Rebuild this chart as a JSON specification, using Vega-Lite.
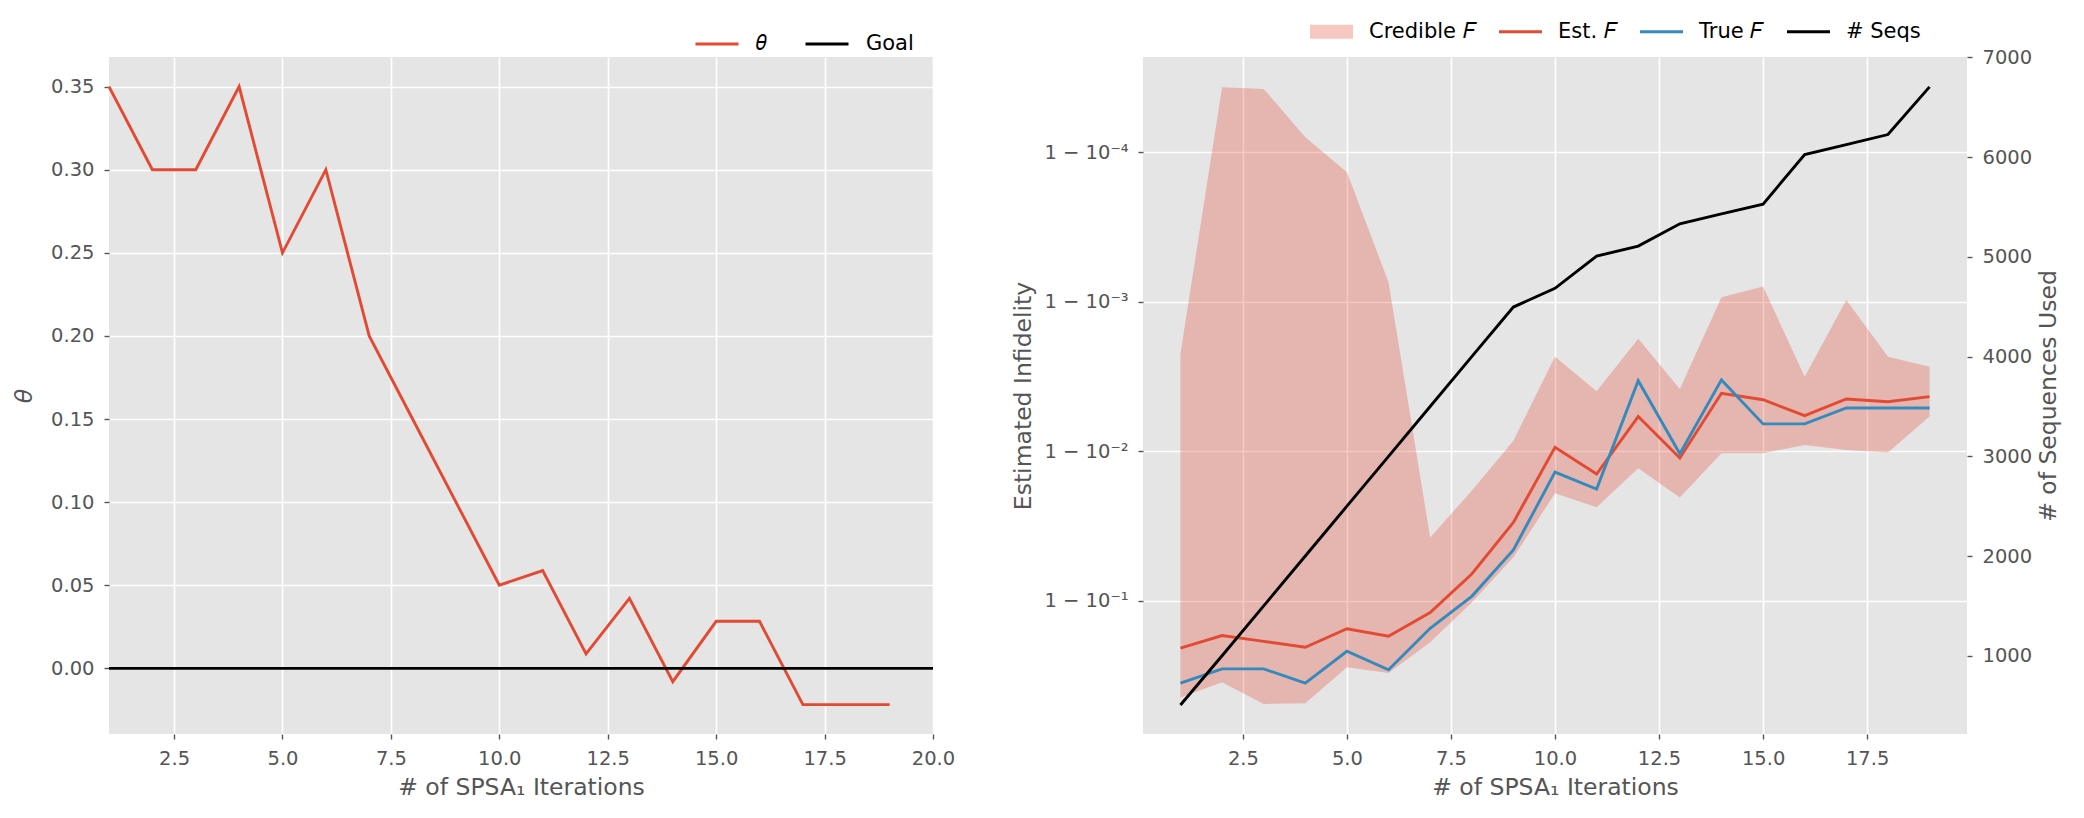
{
  "$schema": "https://vega.github.io/schema/vega-lite/v6.json",
  "padding": {"left": 12, "top": 21, "right": 10, "bottom": 10},
  "background": "white",
  "config": {
    "font": "DejaVu Sans",
    "view": {"fill": "#E5E5E5", "stroke": null},
    "axis": {
      "domain": false,
      "grid": true,
      "gridColor": "#FFFFFF",
      "gridWidth": 1.6,
      "gridOpacity": 1,
      "ticks": true,
      "tickColor": "#555555",
      "tickSize": 5,
      "tickWidth": 1.4,
      "labelColor": "#555555",
      "labelFont": "DejaVu Sans",
      "labelFontSize": 19.5,
      "labelPadding": 10,
      "labelFlush": false,
      "labelOverlap": false,
      "titleColor": "#555555",
      "titleFont": "DejaVu Sans",
      "titleFontSize": 23.5,
      "titleFontWeight": "normal"
    },
    "legend": {
      "labelFont": "DejaVu Sans",
      "labelFontSize": 21,
      "labelColor": "#000000",
      "symbolType": "stroke",
      "symbolSize": 1849,
      "symbolStrokeWidth": 3,
      "symbolOpacity": 1
    }
  },
  "datasets": {
    "theta": [
      {"iter": 1, "theta": 0.35, "series": "θ"},
      {"iter": 2, "theta": 0.30, "series": "θ"},
      {"iter": 3, "theta": 0.30, "series": "θ"},
      {"iter": 4, "theta": 0.35, "series": "θ"},
      {"iter": 5, "theta": 0.25, "series": "θ"},
      {"iter": 6, "theta": 0.30, "series": "θ"},
      {"iter": 7, "theta": 0.20, "series": "θ"},
      {"iter": 8, "theta": 0.15, "series": "θ"},
      {"iter": 9, "theta": 0.10, "series": "θ"},
      {"iter": 10, "theta": 0.05, "series": "θ"},
      {"iter": 11, "theta": 0.0588, "series": "θ"},
      {"iter": 12, "theta": 0.0087, "series": "θ"},
      {"iter": 13, "theta": 0.0421, "series": "θ"},
      {"iter": 14, "theta": -0.0080, "series": "θ"},
      {"iter": 15, "theta": 0.0283, "series": "θ"},
      {"iter": 16, "theta": 0.0283, "series": "θ"},
      {"iter": 17, "theta": -0.0218, "series": "θ"},
      {"iter": 18, "theta": -0.0218, "series": "θ"},
      {"iter": 19, "theta": -0.0218, "series": "θ"},
      {"iter": 1, "theta": 0, "series": "Goal"},
      {"iter": 20, "theta": 0, "series": "Goal"}
    ],
    "runs": [
      {"iter": 1, "est": 0.208, "truth": 0.356, "credLow": 0.00223, "credHigh": 0.444, "seqs": 506},
      {"iter": 2, "est": 0.171, "truth": 0.286, "credLow": 0.0000366, "credHigh": 0.352, "seqs": 1000},
      {"iter": 3, "est": 0.187, "truth": 0.286, "credLow": 0.0000376, "credHigh": 0.491, "seqs": 1500},
      {"iter": 4, "est": 0.205, "truth": 0.356, "credLow": 0.0000793, "credHigh": 0.486, "seqs": 2000},
      {"iter": 5, "est": 0.154, "truth": 0.218, "credLow": 0.000136, "credHigh": 0.279, "seqs": 2500},
      {"iter": 6, "est": 0.173, "truth": 0.290, "credLow": 0.00074, "credHigh": 0.305, "seqs": 3000},
      {"iter": 7, "est": 0.120, "truth": 0.153, "credLow": 0.0377, "credHigh": 0.190, "seqs": 3500},
      {"iter": 8, "est": 0.0663, "truth": 0.0935, "credLow": 0.0184, "credHigh": 0.103, "seqs": 4000},
      {"iter": 9, "est": 0.0299, "truth": 0.0458, "credLow": 0.00849, "credHigh": 0.0513, "seqs": 4497},
      {"iter": 10, "est": 0.00942, "truth": 0.0138, "credLow": 0.00233, "credHigh": 0.0191, "seqs": 4685},
      {"iter": 11, "est": 0.0142, "truth": 0.0179, "credLow": 0.00397, "credHigh": 0.0237, "seqs": 5008},
      {"iter": 12, "est": 0.00586, "truth": 0.00337, "credLow": 0.00177, "credHigh": 0.0130, "seqs": 5108},
      {"iter": 13, "est": 0.0111, "truth": 0.0104, "credLow": 0.00383, "credHigh": 0.0204, "seqs": 5332},
      {"iter": 14, "est": 0.00409, "truth": 0.00333, "credLow": 0.000933, "credHigh": 0.0103, "seqs": 5432},
      {"iter": 15, "est": 0.00452, "truth": 0.00656, "credLow": 0.000791, "credHigh": 0.0103, "seqs": 5529},
      {"iter": 16, "est": 0.00578, "truth": 0.00656, "credLow": 0.00317, "credHigh": 0.00907, "seqs": 6027},
      {"iter": 17, "est": 0.00447, "truth": 0.00513, "credLow": 0.000971, "credHigh": 0.00980, "seqs": 6127},
      {"iter": 18, "est": 0.00466, "truth": 0.00513, "credLow": 0.00233, "credHigh": 0.0102, "seqs": 6227},
      {"iter": 19, "est": 0.00431, "truth": 0.00513, "credLow": 0.00272, "credHigh": 0.00586, "seqs": 6705}
    ]
  },
  "hconcat": [
    {
      "width": 824,
      "height": 677,
      "data": {"name": "theta"},
      "mark": {"type": "line", "strokeWidth": 2.9},
      "encoding": {
        "x": {
          "field": "iter", "type": "quantitative",
          "scale": {"domain": [1, 20], "nice": false, "zero": false},
          "axis": {"values": [2.5, 5, 7.5, 10, 12.5, 15, 17.5, 20], "format": ".1f", "title": "# of SPSA₁ Iterations", "titlePadding": 8}
        },
        "y": {
          "field": "theta", "type": "quantitative",
          "scale": {"domain": [-0.0395, 0.3678], "nice": false, "zero": false},
          "axis": {"values": [0, 0.05, 0.1, 0.15, 0.2, 0.25, 0.3, 0.35], "format": ".2f", "title": "θ", "titleFontStyle": "italic", "titlePadding": 14}
        },
        "color": {
          "field": "series", "type": "nominal",
          "scale": {"domain": ["θ", "Goal"], "range": ["#E24A33", "#000000"]},
          "legend": {
            "orient": "none", "legendX": 585, "legendY": -36,
            "direction": "horizontal", "title": null,
            "labelOffset": 16,
            "columnPadding": 32,
            "labelExpr": "datum.label === 'θ' ? '𝜃' : datum.label"
          }
        },
        "order": {"field": "series", "sort": "descending"}
      }
    },
    {
      "width": 824,
      "height": 677,
      "data": {"name": "runs"},
      "encoding": {
        "x": {
          "field": "iter", "type": "quantitative",
          "scale": {"domain": [0.1, 19.9], "nice": false, "zero": false},
          "axis": {"values": [2.5, 5, 7.5, 10, 12.5, 15, 17.5], "format": ".1f", "title": "# of SPSA₁ Iterations", "titlePadding": 8}
        }
      },
      "layer": [
        {
          "mark": {"type": "area", "opacity": 0.3},
          "encoding": {
            "y": {
              "field": "credLow", "type": "quantitative",
              "scale": {"type": "log", "domain": [0.000023, 0.78], "reverse": true, "nice": false},
              "axis": {
                "orient": "left",
                "values": [0.0001, 0.001, 0.01, 0.1],
                "labelExpr": "'1 − 10' + (datum.value < 0.0005 ? '⁻⁴' : datum.value < 0.005 ? '⁻³' : datum.value < 0.05 ? '⁻²' : '⁻¹')",
                "title": "Estimated Infidelity", "titlePadding": 8
              }
            },
            "y2": {"field": "credHigh"},
            "color": {
              "datum": "Credible F", "type": "nominal",
              "scale": {"domain": ["Credible F", "Est. F", "True F", "# Seqs"], "range": ["#E24A33", "#E24A33", "#348ABD", "#000000"]},
              "legend": {
                "orient": "none", "legendX": 178, "legendY": -36,
                "direction": "horizontal", "title": null,
                "labelOffset": 27,
                "columnPadding": 17,
                "labelExpr": "replace(datum.label, ' F', ' 𝐹')",
                "encode": {
                  "symbols": {
                    "update": {
                      "shape": {"signal": "datum.value === 'Credible F' ? 'M-1,-0.33H1V0.33H-1Z' : 'stroke'"},
                      "size": {"value": 1849},
                      "fill": {"signal": "datum.value === 'Credible F' ? '#E24A33' : 'transparent'"},
                      "fillOpacity": {"signal": "datum.value === 'Credible F' ? 0.3 : 1"},
                      "stroke": {"signal": "datum.value === 'Est. F' ? '#E24A33' : datum.value === 'True F' ? '#348ABD' : datum.value === '# Seqs' ? '#000000' : 'transparent'"},
                      "strokeWidth": {"signal": "datum.value === 'Credible F' ? 0 : 3"},
                      "opacity": {"value": 1}
                    }
                  }
                }
              }
            }
          }
        },
        {
          "mark": {"type": "line", "strokeWidth": 2.9},
          "encoding": {
            "y": {"field": "est", "type": "quantitative", "scale": {"type": "log", "domain": [0.000023, 0.78], "reverse": true, "nice": false}, "axis": null},
            "color": {"datum": "Est. F", "type": "nominal"}
          }
        },
        {
          "mark": {"type": "line", "strokeWidth": 2.9},
          "encoding": {
            "y": {"field": "truth", "type": "quantitative", "scale": {"type": "log", "domain": [0.000023, 0.78], "reverse": true, "nice": false}, "axis": null},
            "color": {"datum": "True F", "type": "nominal"}
          }
        },
        {
          "mark": {"type": "line", "strokeWidth": 2.9},
          "encoding": {
            "y": {
              "field": "seqs", "type": "quantitative",
              "scale": {"domain": [215, 7005], "nice": false, "zero": false},
              "axis": {"orient": "right", "values": [1000, 2000, 3000, 4000, 5000, 6000, 7000], "format": "d", "title": "# of Sequences Used", "titleAngle": 270, "titleBaseline": "top", "titlePadding": 5}
            },
            "color": {"datum": "# Seqs", "type": "nominal"}
          }
        }
      ],
      "resolve": {"scale": {"y": "independent"}}
    }
  ],
  "resolve": {"scale": {"color": "independent"}, "legend": {"color": "independent"}},
  "spacing": 210,
  "bounds": "flush"
}
